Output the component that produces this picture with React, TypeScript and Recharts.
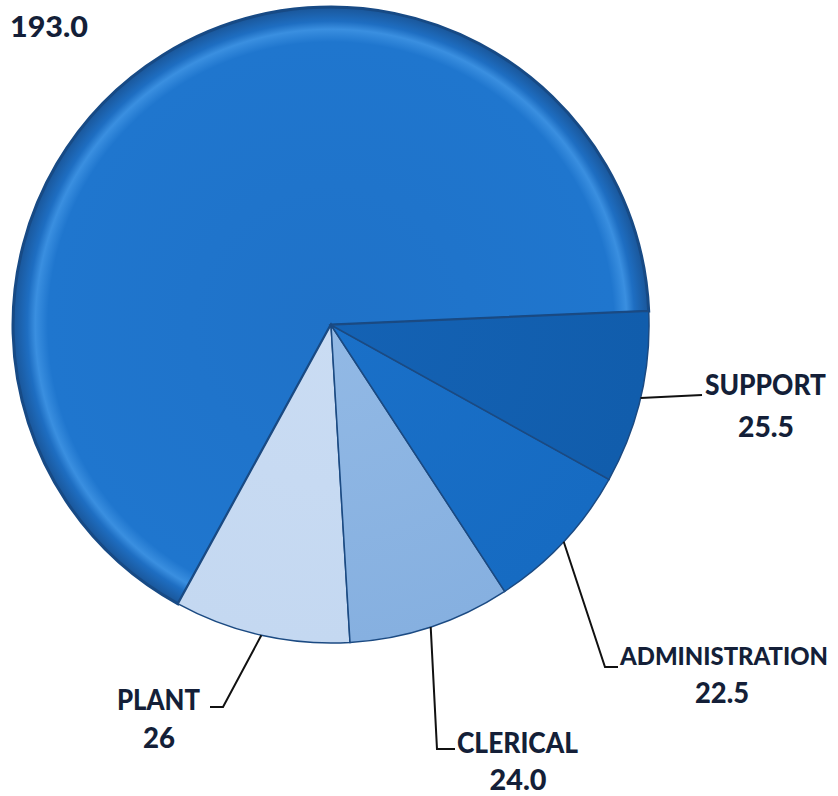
import React from 'react';
import { PieChart, Pie, Cell } from 'recharts';

const categories = ['MAIN', 'PLANT', 'CLERICAL', 'ADMINISTRATION', 'SUPPORT'];
const values = [193.0, 26, 24.0, 22.5, 25.5];
const valueLabels = ['193.0', '26', '24.0', '22.5', '25.5'];
const showName = [false, true, true, true, true];

const data = categories.map((name, i) => ({ name, value: values[i], valueLabel: valueLabels[i], showName: showName[i] }));

const CX = 331;
const CY = 325;
const R = 318;

const gradients = [
  { id: 'g0', stops: [['0%', '#1f72c8'], ['89%', '#1f76ce'], ['93%', '#3a8fe0'], ['95.5%', '#1e6ec2'], ['100%', '#1a5699']] },
  { id: 'g1', stops: [['0%', '#cadcf3'], ['100%', '#c4d8f1']] },
  { id: 'g2', stops: [['0%', '#92b9e5'], ['100%', '#86b0e0']] },
  { id: 'g3', stops: [['0%', '#1a70c8'], ['100%', '#166bc2']] },
  { id: 'g4', stops: [['0%', '#1462b4'], ['100%', '#115dac']] },
];

const layout: Record<string, any> = {
  MAIN: { pts: [], name: null, value: { x: 10, y: 37, anchor: 'start', w: 78 } },
  SUPPORT: { pts: [[702, 395]], name: { x: 705, y: 395, anchor: 'start', w: 121 }, value: { x: 766, y: 437, anchor: 'middle', w: 56 } },
  ADMINISTRATION: { pts: [[605, 667], [618, 667]], name: { x: 620, y: 665, anchor: 'start', w: 208, fs: 24 }, value: { x: 722, y: 703, anchor: 'middle', w: 54 } },
  CLERICAL: { pts: [[437, 749], [455, 749]], name: { x: 457, y: 753, anchor: 'start', w: 121 }, value: { x: 518, y: 790, anchor: 'middle', w: 57 } },
  PLANT: { pts: [[223, 707], [210, 707]], name: { x: 200, y: 710, anchor: 'end', w: 83 }, value: { x: 159, y: 748, anchor: 'middle', w: 32 } },
};

const TEXT = '#141f38';
const FONT = 'Lato, "Open Sans", sans-serif';

const T = ({ spec, children }: any) => (
  <text
    x={spec.x}
    y={spec.y}
    textAnchor={spec.anchor}
    fill={TEXT}
    fontFamily={FONT}
    fontWeight={900}
    fontSize={spec.fs ?? 29}
    textLength={spec.w}
    lengthAdjust="spacingAndGlyphs"
  >
    {children}
  </text>
);

const renderLabel = (props: any) => {
  const { cx, cy, midAngle, outerRadius, name, payload, index } = props;
  const lay = layout[name];
  if (!lay) return null;
  const rad = (-midAngle * Math.PI) / 180;
  const sx = cx + outerRadius * Math.cos(rad);
  const sy = cy + outerRadius * Math.sin(rad);
  const pts = lay.pts.length ? [[sx, sy], ...lay.pts] : [];
  const vl = payload?.valueLabel ?? valueLabels[index];
  return (
    <g key={name}>
      {pts.length > 0 && (
        <polyline points={pts.map((p: number[]) => p.join(',')).join(' ')} fill="none" stroke="#111" strokeWidth={2} />
      )}
      {lay.name && <T spec={lay.name}>{name}</T>}
      <T spec={lay.value}>{vl}</T>
    </g>
  );
};

export default function App() {
  return (
    <div style={{ position: 'absolute', left: 0, top: 0, width: 838, height: 796, background: '#fff' }}>
      <PieChart width={838} height={796} margin={{ top: 0, right: 0, bottom: 0, left: 0 }}>
        <defs>
          {gradients.map((g) => (
            <radialGradient key={g.id} id={g.id} gradientUnits="userSpaceOnUse" cx={CX} cy={CY} r={R}>
              {g.stops.map(([o, c]) => (
                <stop key={o} offset={o} stopColor={c} />
              ))}
            </radialGradient>
          ))}
        </defs>
        <Pie
          data={data}
          dataKey="value"
          nameKey="name"
          cx={CX}
          cy={CY}
          outerRadius={R}
          startAngle={2.5}
          endAngle={362.5}
          isAnimationActive={false}
          label={renderLabel}
          labelLine={false}
          stroke="#1b4a82"
          strokeWidth={1.5}
        >
          {data.map((d, i) => (
            <Cell
              key={d.name}
              fill={`url(#g${i})`}
              stroke={i === 0 ? '#174a85' : '#1b4a82'}
              strokeWidth={i === 0 ? 3 : 1.5}
            />
          ))}
        </Pie>
      </PieChart>
    </div>
  );
}
